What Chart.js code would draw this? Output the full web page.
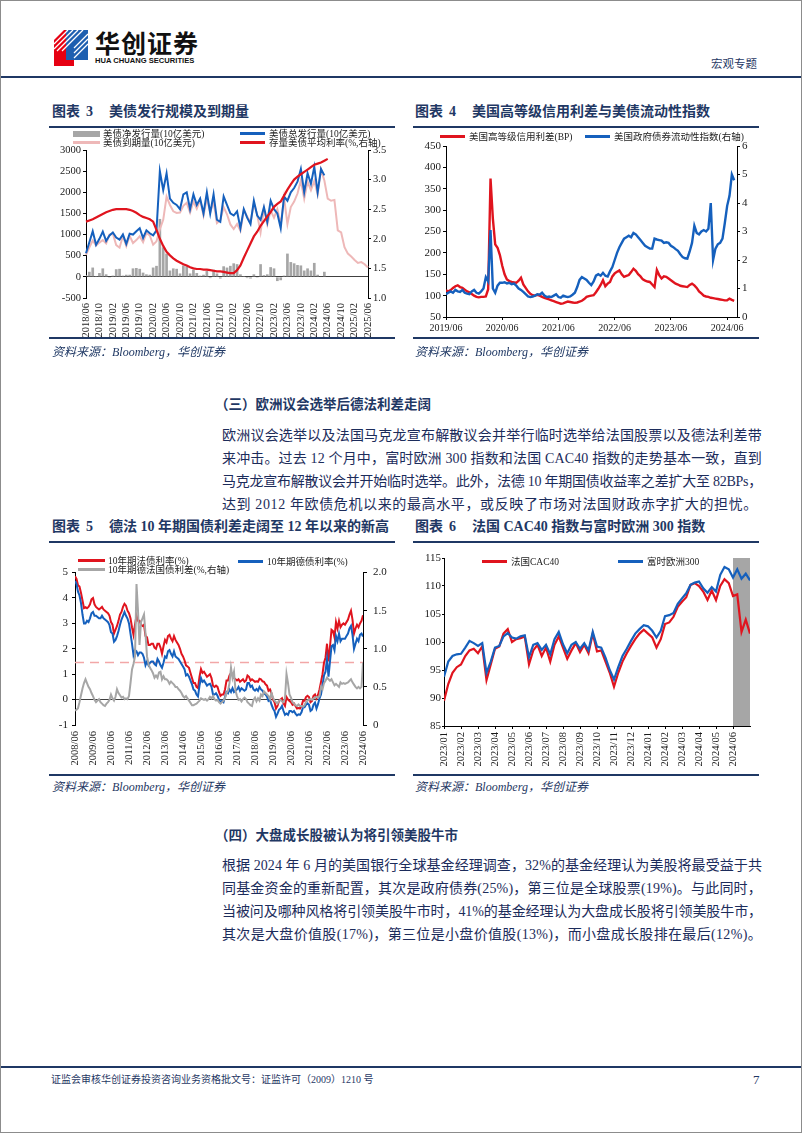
<!DOCTYPE html>
<html lang="zh-CN">
<head>
<meta charset="utf-8">
<title>宏观专题</title>
<script src="https://cdn.jsdelivr.net/npm/chart.js@4.4.1/dist/chart.umd.min.js"></script>
<style>
body{margin:0;background:#fff;}
#page{position:relative;width:802px;height:1133px;overflow:hidden;background:#fff;font-family:"Liberation Serif","Noto Sans CJK SC",serif;color:#1c2c5b;}
.frame{position:absolute;left:0;top:0;width:802px;height:1133px;box-sizing:border-box;border:1px solid #8c8c8c;pointer-events:none;}
.a{position:absolute;white-space:nowrap;}
.rule{position:absolute;height:2px;background:#1f3864;}
.title{position:absolute;font-size:14px;line-height:18px;font-weight:700;color:#1f3864;white-space:nowrap;}
.src{position:absolute;font-size:12px;line-height:16px;font-style:italic;color:#1f3864;white-space:nowrap;}
.lg{position:absolute;font-size:9.5px;line-height:10px;color:#222;white-space:nowrap;z-index:2;}
.sw{display:inline-block;width:25px;height:3px;vertical-align:middle;margin-right:4px;position:relative;top:-1px;}
.h{position:absolute;left:215px;font-size:13.5px;line-height:18px;font-weight:700;color:#1f3864;white-space:nowrap;}
.p{position:absolute;left:222px;width:540px;height:23px;font-size:14px;line-height:23px;white-space:nowrap;}
canvas{position:absolute;}
</style>
</head>
<body>
<div id="page">

<!-- header -->
<svg class="a" style="left:52px;top:28px" width="40" height="40" viewBox="0 0 40 40">
  <polygon points="2,12 12,2 22,2 22,38 2,38" fill="#e60012"/>
  <polygon points="14,2 36,2 36,32 14,32" fill="#1d5fb0"/>
  <g stroke="#fff" stroke-width="1.2">
    <line x1="2" y1="16" x2="16" y2="2"/><line x1="2" y1="21" x2="21" y2="2"/>
    <line x1="5" y1="23" x2="26" y2="2"/><line x1="10" y1="23" x2="31" y2="2"/>
    <line x1="22" y1="20" x2="36" y2="6"/><line x1="22" y1="25" x2="36" y2="11"/>
    <line x1="22" y1="30" x2="36" y2="16"/>
  </g>
</svg>
<div class="a" style="left:95px;top:28px;font-family:'Noto Sans CJK SC';font-size:25px;line-height:28px;font-weight:700;color:#111;letter-spacing:1px">华创证券</div>
<div class="a" style="left:95px;top:56px;font-family:'Liberation Sans';font-size:7.6px;line-height:9px;font-weight:700;color:#111">HUA CHUANG SECURITIES</div>
<div class="a" style="left:711px;top:56px;font-family:'Noto Sans CJK SC';font-size:11.5px;line-height:14px;color:#1f3864">宏观专题</div>
<div class="rule" style="left:0;top:76px;width:802px;height:2px"></div>

<!-- chart 3 -->
<div class="title" style="left:52px;top:103px">图表<span style="margin-left:6px">3</span><span style="margin-left:16px">美债发行规模及到期量</span></div>
<div class="rule" style="left:49px;top:126px;width:346px"></div>
<div class="lg" style="left:73px;top:129px"><span class="sw" style="width:27px;height:6px;background:#a6a6a6;margin-right:3px"></span>美债净发行量(10亿美元)</div>
<div class="lg" style="left:73px;top:138px"><span class="sw" style="width:27px;background:#eeb8b8;margin-right:3px"></span>美债到期量(10亿美元)</div>
<div class="lg" style="left:240px;top:129px"><span class="sw" style="background:#1560bd"></span>美债总发行量(10亿美元)</div>
<div class="lg" style="left:240px;top:138px"><span class="sw" style="background:#e0141e"></span>存量美债平均利率(%,右轴)</div>
<canvas id="c3" width="355" height="200" style="left:40px;top:140px"></canvas>
<div class="rule" style="left:49px;top:337px;width:346px"></div>
<div class="src" style="left:52px;top:344px">资料来源：Bloomberg，华创证券</div>

<!-- chart 4 -->
<div class="title" style="left:415px;top:103px">图表<span style="margin-left:6px">4</span><span style="margin-left:16px">美国高等级信用利差与美债流动性指数</span></div>
<div class="rule" style="left:413px;top:126px;width:346px"></div>
<div class="lg" style="left:440px;top:132px"><span class="sw" style="background:#e0141e"></span>美国高等级信用利差(BP)</div>
<div class="lg" style="left:585px;top:132px"><span class="sw" style="background:#1560bd"></span>美国政府债券流动性指数(右轴)</div>
<canvas id="c4" width="355" height="200" style="left:405px;top:136px"></canvas>
<div class="rule" style="left:413px;top:337px;width:346px"></div>
<div class="src" style="left:415px;top:344px">资料来源：Bloomberg，华创证券</div>

<!-- section 3 -->
<div class="h" style="top:396px">（三）欧洲议会选举后德法利差走阔</div>
<div class="p" style="top:424px"><span>欧洲议会选举以及法国马克龙宣布解散议会并举行临时选举给法国股票以及德法利差带</span></div>
<div class="p" style="top:447px"><span>来冲击。过去 12 个月中，富时欧洲 300 指数和法国 CAC40 指数的走势基本一致，直到</span></div>
<div class="p" style="top:470px"><span>马克龙宣布解散议会并开始临时选举。此外，法德 10 年期国债收益率之差扩大至 82BPs，</span></div>
<div class="p" style="top:493px" data-w="536"><span>达到 2012 年欧债危机以来的最高水平，或反映了市场对法国财政赤字扩大的担忧。</span></div>

<!-- chart 5 -->
<div class="title" style="left:52px;top:518px">图表<span style="margin-left:6px">5</span><span style="margin-left:16px">德法 10 年期国债利差走阔至 12 年以来的新高</span></div>
<div class="rule" style="left:49px;top:541px;width:346px"></div>
<div class="lg" style="left:78px;top:556px"><span class="sw" style="width:27px;background:#e0141e;margin-right:3px"></span>10年期法债利率(%)</div>
<div class="lg" style="left:238px;top:557px"><span class="sw" style="background:#1560bd"></span>10年期德债利率(%)</div>
<div class="lg" style="left:78px;top:565px"><span class="sw" style="width:27px;background:#a6a6a6;margin-right:3px"></span>10年期德法国债利差(%,右轴)</div>
<canvas id="c5" width="355" height="212" style="left:40px;top:560px"></canvas>
<div class="rule" style="left:49px;top:774px;width:346px"></div>
<div class="src" style="left:52px;top:779px">资料来源：Bloomberg，华创证券</div>

<!-- chart 6 -->
<div class="title" style="left:415px;top:518px">图表<span style="margin-left:6px">6</span><span style="margin-left:16px">法国 CAC40 指数与富时欧洲 300 指数</span></div>
<div class="rule" style="left:413px;top:541px;width:346px"></div>
<div class="lg" style="left:482px;top:557px"><span class="sw" style="background:#e0141e"></span>法国CAC40</div>
<div class="lg" style="left:618px;top:557px"><span class="sw" style="background:#1560bd"></span>富时欧洲300</div>
<canvas id="c6" width="350" height="224" style="left:405px;top:548px"></canvas>
<div class="rule" style="left:413px;top:774px;width:346px"></div>
<div class="src" style="left:415px;top:779px">资料来源：Bloomberg，华创证券</div>

<!-- section 4 -->
<div class="h" style="top:827px">（四）大盘成长股被认为将引领美股牛市</div>
<div class="p" style="top:854px"><span>根据 2024 年 6 月的美国银行全球基金经理调查，32%的基金经理认为美股将最受益于共</span></div>
<div class="p" style="top:877px"><span>同基金资金的重新配置，其次是政府债券(25%)，第三位是全球股票(19%)。与此同时，</span></div>
<div class="p" style="top:900px"><span>当被问及哪种风格将引领美股牛市时，41%的基金经理认为大盘成长股将引领美股牛市，</span></div>
<div class="p" style="top:923px"><span>其次是大盘价值股(17%)，第三位是小盘价值股(13%)，而小盘成长股排在最后(12%)。</span></div>

<!-- footer -->
<div class="rule" style="left:0;top:1066px;width:802px"></div>
<div class="a" style="left:51px;top:1073px;font-size:10px;line-height:14px;color:#1f3864">证监会审核华创证券投资咨询业务资格批文号：证监许可（2009）1210 号</div>
<div class="a" style="left:753px;top:1072px;font-size:13px;line-height:16px;color:#1f3864">7</div>

<div class="frame"></div>
</div>

<script>
//==========
// Data

// 图表3: 月度, 2018/06 起
const c3StartYear = 2018, c3StartMonth = 6;
const c3TotalIssue = [
	560, 820, 1080, 760, 900, 1070, 850,
	980, 1050, 930, 880, 1000, 780, 1020, 1000, 1080, 1150, 920, 1100,
	1030, 980, 1100, 2500, 2050, 2450, 1850, 1750, 1700, 1600, 1950, 2000,
	1600, 1950, 1700, 1850, 1500, 2000, 1500, 1950, 1350, 1300, 1900, 1700,
	1500, 1450, 1550, 1150, 1600, 1400, 1250, 1800, 1450, 1350, 1650, 1300,
	1800, 1600, 1500, 1150, 1900, 1800, 2000, 2100, 2250, 2550, 2000, 2450,
	2200, 2600, 2000, 2550, 2400
];
const c3Maturity = [
	520, 700, 860, 740, 810, 870, 790,
	1000, 1020, 750, 690, 970, 730, 970, 800, 870, 960, 820, 1040,
	980, 760, 840, 1130, 1350, 1900, 1700, 1550, 1510, 1520, 1680, 1750,
	1520, 1780, 1610, 1820, 1450, 1860, 1530, 1780, 1270, 1340, 1650, 1480,
	1240, 1130, 1250, 1090, 1580, 1430, 1290, 1740, 1470, 1050, 1610, 1240,
	1570, 1400, 1600, 1230, 1870, 1250, 1650, 1780, 1970, 2280, 1850, 2250,
	2050, 2270, 1950, 2540, 2280, 1850, 1800, 1820, 1100, 1050, 700, 550,
	480, 400, 330, 350, 300, 220
];
const c3NetIssue = [
	40, 120, 220, 20, 90, 200, 60,
	-20, 30, 180, 190, 30, 50, 50, 200, 210, 190, 100, 60,
	50, 220, 260, 1370, 700, 550, 150, 200, 190, 80, 270, 250,
	80, 170, 90, 30, 50, 140, -30, 170, 80, -40, 250, 220,
	260, 320, 300, 60, 20, -30, -40, 60, -20, 300, 40, 60,
	230, 200, -100, -80, 30, 550, 350, 320, 280, 270, 150, 200,
	150, 330, 50, 10, 120
];
const c3AvgRate = [
	2.29, 2.31, 2.33, 2.36, 2.39, 2.42, 2.45,
	2.47, 2.49, 2.50, 2.50, 2.50, 2.50, 2.49, 2.47, 2.44, 2.40, 2.37, 2.35,
	2.33, 2.29, 2.15, 2.00, 1.88, 1.78, 1.72, 1.67, 1.63, 1.60, 1.57, 1.55,
	1.52, 1.50, 1.49, 1.49, 1.48, 1.48, 1.47, 1.46, 1.45, 1.45, 1.44, 1.43,
	1.42, 1.42, 1.47, 1.55, 1.68, 1.80, 1.92, 2.04, 2.12, 2.22, 2.30, 2.38,
	2.45, 2.54, 2.59, 2.63, 2.73, 2.83, 2.92, 3.00, 3.05, 3.09, 3.13, 3.17,
	3.21, 3.25, 3.27, 3.29, 3.32, 3.35
];
const c3TickEvery = 4;

// 图表4: 半月度, 2019/06 起 (x = 月)
const c4Step = 0.5;
const c4CreditSpread = [
	112, 110, 113, 118, 122, 124, 120, 118, 114, 110, 108, 104, 100, 97, 96, 97, 97, 98, 115, 374,
	280, 220, 212, 195, 170, 150, 138, 134, 132, 131, 130, 135, 142, 126, 118, 110, 104, 101, 100, 102,
	100, 97, 95, 93, 91, 89, 87, 85, 83, 81, 82, 84, 86, 85, 84, 83, 84, 86, 88, 92,
	97, 99, 100, 101, 108, 116, 125, 136, 122, 128, 132, 145, 152, 156, 159, 150, 144, 146, 148, 155,
	163, 158, 150, 145, 138, 135, 133, 132, 126, 120, 160, 148, 140, 145, 144, 140, 136, 132, 128, 126,
	123, 122, 121, 120, 125, 128, 124, 118, 110, 105, 100, 98, 97, 95, 94, 93, 92, 91, 90, 89,
	89, 93, 90, 88
];
const c4Liquidity = [
	0.80, 0.85, 0.90, 0.85, 0.95, 0.90, 0.88, 0.95, 0.85, 0.82, 0.80, 0.90, 0.95, 0.85, 0.82, 0.90, 1.00, 1.40, 1.25, 3.05,
	1.00, 0.85, 1.10, 1.20, 1.20, 1.22, 1.18, 1.20, 1.15, 1.17, 1.10, 1.00, 0.95, 0.88, 0.80, 0.72, 0.70, 0.72, 0.75, 0.80,
	0.78, 0.85, 0.75, 0.70, 0.72, 0.70, 0.75, 0.80, 0.70, 0.68, 0.75, 0.72, 0.70, 0.72, 0.78, 0.85, 1.05, 1.30, 1.40, 1.35,
	1.30, 1.20, 1.12, 1.25, 1.45, 1.50, 1.45, 1.55, 1.45, 1.42, 1.60, 1.75, 2.00, 2.25, 2.45, 2.60, 2.75, 2.80, 2.85, 2.80,
	2.95, 2.90, 2.80, 2.70, 2.60, 2.50, 2.45, 2.40, 2.40, 2.75, 2.72, 2.70, 2.68, 2.60, 2.62, 2.60, 2.50, 2.45, 2.38, 2.32,
	2.20, 2.10, 2.06, 2.05, 2.30, 2.60, 3.20, 2.95, 2.90, 3.00, 3.05, 3.00, 3.10, 4.00, 2.00, 2.40, 2.55, 2.60, 2.75, 3.30,
	3.90, 4.25, 5.00, 4.80
];
const c4TickPos = [0, 12, 24, 36, 48, 60];
const c4TickLabels = ["2019/06", "2020/06", "2021/06", "2022/06", "2023/06", "2024/06"];

// 图表5: 月度, 2008/06 起
const c5Step = 1;
const c5France = [
	4.86, 4.75, 4.50, 4.45, 4.20, 3.90, 3.60,
	3.64, 3.60, 3.65, 3.75, 3.95, 4.00, 3.75, 3.65, 3.60, 3.55, 3.60, 3.65,
	3.55, 3.50, 3.45, 3.40, 3.30, 3.05, 2.95, 2.60, 2.75, 2.90, 3.10, 3.35,
	3.45, 3.65, 3.77, 3.70, 3.50, 3.40, 3.20, 2.85, 2.55, 2.95, 3.30, 3.10,
	3.10, 2.95, 2.90, 2.95, 2.50, 2.45, 2.15, 2.15, 2.20, 2.20, 2.05, 2.00,
	2.20, 2.20, 2.05, 1.80, 2.10, 2.35, 2.25, 2.50, 2.55, 2.40, 2.30, 2.50,
	2.35, 2.25, 2.15, 2.00, 1.80, 1.70, 1.55, 1.35, 1.30, 1.25, 1.05, 0.85,
	0.65, 0.65, 0.50, 0.45, 0.90, 1.20, 1.05, 1.10, 1.00, 0.90, 0.95, 1.00,
	0.85, 0.55, 0.50, 0.55, 0.50, 0.30, 0.15, 0.20, 0.20, 0.40, 0.75, 0.75,
	0.95, 1.05, 1.00, 0.85, 0.80, 0.75, 0.80, 0.70, 0.75, 0.80, 0.70, 0.75,
	0.95, 0.90, 0.75, 0.80, 0.75, 0.70, 0.72, 0.70, 0.82, 0.80, 0.72, 0.70,
	0.60, 0.55, 0.35, 0.40, 0.25, 0.00, -0.10, -0.35, -0.25, -0.05, 0.00, 0.05,
	-0.15, -0.25, 0.10, 0.00, -0.05, -0.10, -0.20, -0.15, -0.25, -0.35, -0.33, -0.35,
	-0.25, -0.05, -0.05, 0.10, 0.15, 0.10, -0.10, -0.05, 0.15, 0.20, 0.05, 0.18,
	0.40, 0.70, 1.00, 1.45, 1.65, 2.20, 1.50, 2.10, 2.75, 2.70, 2.45, 3.05,
	2.80, 3.10, 2.85, 2.95, 3.00, 2.95, 3.05, 3.15, 3.35, 3.50, 3.15, 2.60,
	2.80, 2.95, 2.85, 3.00, 3.10, 3.32
];
const c5Germany = [
	4.67, 4.55, 4.25, 4.10, 3.80, 3.35, 3.00,
	3.00, 3.10, 3.05, 3.20, 3.40, 3.45, 3.30, 3.30, 3.25, 3.20, 3.20, 3.30,
	3.20, 3.15, 3.10, 3.05, 2.93, 2.65, 2.60, 2.28, 2.35, 2.50, 2.70, 2.95,
	3.15, 3.30, 3.45, 3.30, 3.19, 3.00, 2.60, 2.20, 1.75, 1.95, 1.90, 1.75,
	1.85, 1.85, 1.80, 1.65, 1.35, 1.50, 1.35, 1.45, 1.50, 1.50, 1.40, 1.35,
	1.60, 1.50, 1.35, 1.25, 1.45, 1.70, 1.65, 1.90, 1.95, 1.80, 1.70, 1.90,
	1.70, 1.65, 1.60, 1.50, 1.40, 1.30, 1.20, 0.95, 1.00, 0.90, 0.75, 0.60,
	0.40, 0.35, 0.20, 0.12, 0.55, 0.85, 0.70, 0.75, 0.65, 0.55, 0.60, 0.62,
	0.50, 0.20, 0.20, 0.25, 0.15, 0.00, -0.10, -0.05, -0.10, 0.10, 0.30, 0.25,
	0.40, 0.30, 0.45, 0.30, 0.35, 0.40, 0.50, 0.35, 0.45, 0.40, 0.35, 0.40,
	0.65, 0.65, 0.50, 0.55, 0.40, 0.35, 0.42, 0.35, 0.50, 0.40, 0.35, 0.25,
	0.20, 0.12, -0.05, 0.00, -0.20, -0.35, -0.45, -0.68, -0.55, -0.40, -0.35, -0.25,
	-0.45, -0.60, -0.55, -0.60, -0.45, -0.45, -0.50, -0.45, -0.55, -0.62, -0.58, -0.60,
	-0.50, -0.30, -0.30, -0.20, -0.15, -0.20, -0.45, -0.40, -0.20, -0.12, -0.35, -0.18,
	0.05, 0.20, 0.55, 0.95, 1.10, 1.60, 0.90, 1.50, 2.10, 2.15, 1.95, 2.50,
	2.30, 2.60, 2.30, 2.40, 2.40, 2.40, 2.50, 2.60, 2.80, 2.90, 2.55, 2.00,
	2.20, 2.40, 2.30, 2.55, 2.60, 2.48
];
const c5Spread = [
	0.19, 0.20, 0.22, 0.30, 0.39, 0.48, 0.55,
	0.60, 0.55, 0.50, 0.47, 0.42, 0.38, 0.33, 0.30, 0.32, 0.34, 0.30, 0.28,
	0.26, 0.25, 0.28, 0.30, 0.33, 0.40, 0.35, 0.32, 0.37, 0.47, 0.42, 0.39,
	0.36, 0.37, 0.34, 0.35, 0.34, 0.38, 0.55, 0.73, 0.80, 0.90, 1.85, 1.50,
	1.05, 1.35, 1.40, 1.45, 1.20, 0.90, 0.80, 0.75, 0.72, 0.68, 0.62, 0.65,
	0.62, 0.69, 0.70, 0.60, 0.64, 0.60, 0.60, 0.58, 0.54, 0.57, 0.55, 0.53,
	0.50, 0.50, 0.47, 0.45, 0.42, 0.38, 0.36, 0.38, 0.35, 0.32, 0.29, 0.26,
	0.26, 0.27, 0.28, 0.30, 0.32, 0.35, 0.34, 0.33, 0.34, 0.32, 0.34, 0.37,
	0.35, 0.38, 0.34, 0.32, 0.33, 0.30, 0.28, 0.30, 0.32, 0.35, 0.42, 0.45,
	0.55, 0.75, 0.62, 0.70, 0.45, 0.38, 0.33, 0.34, 0.31, 0.34, 0.36, 0.34,
	0.30, 0.28, 0.26, 0.25, 0.33, 0.36, 0.31, 0.35, 0.32, 0.40, 0.38, 0.44,
	0.42, 0.40, 0.38, 0.34, 0.42, 0.36, 0.32, 0.30, 0.28, 0.32, 0.33, 0.31,
	0.30, 0.35, 0.67, 0.55, 0.40, 0.36, 0.30, 0.28, 0.26, 0.25, 0.27, 0.25,
	0.25, 0.24, 0.26, 0.30, 0.32, 0.33, 0.34, 0.33, 0.35, 0.36, 0.37, 0.36,
	0.38, 0.50, 0.47, 0.55, 0.58, 0.62, 0.60, 0.58, 0.60, 0.56, 0.52, 0.54,
	0.52, 0.50, 0.56, 0.54, 0.55, 0.54, 0.55, 0.56, 0.58, 0.60, 0.56, 0.53,
	0.50, 0.48, 0.50, 0.48, 0.50, 0.82
];
const c5SpreadMark = 0.82;// 82BPs 参考线
const c5TickLabels = ["2008/06", "2009/06", "2010/06", "2011/06", "2012/06", "2013/06", "2014/06", "2015/06", "2016/06",
	"2017/06", "2018/06", "2019/06", "2020/06", "2021/06", "2022/06", "2023/06", "2024/06"];

// 图表6: 周度(约), 2023/01 起 (x = 月)
const c6Step = 0.25;
const c6Cac40 = [
	89.5, 92.5, 94.5, 95.5, 96.0, 97.5, 98.5, 98.8, 98.0, 99.2,
	93.2, 96.0, 98.8, 99.2, 101.5, 102.3, 100.0, 100.5, 100.7, 101.0,
	96.0, 98.5, 99.5, 97.5, 99.0, 96.5, 99.5, 101.0, 99.0, 97.0,
	98.5, 99.8, 98.2, 99.5, 98.0, 101.5, 98.3, 98.5, 96.5, 94.5,
	92.0, 94.5, 96.5, 98.0, 99.3, 100.5, 101.5, 102.2, 101.5, 100.8,
	99.0, 100.5, 103.2, 103.5, 104.5, 106.3, 107.2, 108.0, 110.2, 110.5,
	110.0, 109.0, 107.5, 109.2, 107.5, 110.0, 111.2, 110.5, 108.2, 108.5,
	101.8, 104.0, 101.5
];
const c6Stoxx600 = [
	93.8, 96.5, 97.5, 97.8, 97.9, 99.0, 100.2, 99.8, 99.3, 99.8,
	94.5, 96.5, 99.0, 99.3, 101.0, 101.6, 100.8, 100.6, 101.0, 101.2,
	97.3, 99.5, 99.8, 98.6, 99.5, 97.8, 100.5, 101.8, 99.6, 98.0,
	99.5, 100.0, 98.8, 99.8, 98.5, 101.8, 99.2, 99.0, 97.2, 95.0,
	93.3, 95.5, 97.5, 98.8, 100.2, 101.5, 102.3, 103.0, 102.8, 102.0,
	100.8, 102.0, 104.6, 104.8, 105.2, 106.8, 107.8, 108.7, 110.2, 110.6,
	110.8, 109.6, 108.8, 109.8, 109.0, 112.0, 113.4, 113.0, 111.5, 113.0,
	111.3, 112.2, 111.0
];
const c6TickLabels = ["2023/01", "2023/02", "2023/03", "2023/04", "2023/05", "2023/06", "2023/07", "2023/08", "2023/09",
	"2023/10", "2023/11", "2023/12", "2024/01", "2024/02", "2024/03", "2024/04", "2024/05", "2024/06"];
const c6ShadeFrom = 17, c6ShadeTo = 18;// 2024/06 以后

//==========
// Text: 每行两端对齐

document.querySelectorAll(".p").forEach(el=>{
	const span = el.firstElementChild;
	const target = Number(el.dataset.w || 540);
	const n = span.textContent.length;
	const w = span.getBoundingClientRect().width;
	span.style.letterSpacing = ((target - w) / n) + "px";
});

//==========
// Helper

Chart.defaults.font.family = '"Liberation Serif", "Noto Sans CJK SC", serif';
Chart.defaults.font.size = 10.5;
Chart.defaults.color = "#1a1a1a";
Chart.defaults.animation = false;
Chart.defaults.responsive = false;
Chart.defaults.plugins.legend.display = false;
Chart.defaults.plugins.tooltip.enabled = false;
Chart.defaults.elements.point.radius = 0;
Chart.defaults.elements.line.tension = 0;

function fixW(w){ return s=>{ s.width = w; }; }
function fixH(h){ return s=>{ s.height = h; }; }
function setTicks(pos){ return s=>{ s.ticks = pos.map(v=>({value: v})); }; }
function pts(vals, step){ return vals.map((v, i)=>({x: i*step, y: v})); }
function zeroLine(c){ return (c.tick && c.tick.value === 0) ? "#404040" : "rgba(0,0,0,0)"; }
const sideGrid = {drawOnChartArea: false, tickColor: "#000", tickLength: 3};

//==========
// 图表3

const c3Months = [];
for(let i=0; i<c3Maturity.length; i++){
	const m = c3StartMonth - 1 + i;
	c3Months.push((c3StartYear + Math.floor(m/12)) + "/" + String(m%12 + 1).padStart(2, "0"));
}

new Chart(document.getElementById("c3"), {
	type: "bar",
	data: {
		labels: c3Months,
		datasets: [
			{type: "line", data: c3AvgRate, yAxisID: "y1", borderColor: "#e0141e", borderWidth: 2.2, order: 0},
			{type: "line", data: c3TotalIssue, yAxisID: "y", borderColor: "#1560bd", borderWidth: 2, order: 1},
			{type: "line", data: c3Maturity, yAxisID: "y", borderColor: "#eeb8b8", borderWidth: 2, order: 2},
			{type: "bar", data: c3NetIssue, yAxisID: "y", backgroundColor: "#a6a6a6", barPercentage: 0.8, categoryPercentage: 1, order: 3}
		]
	},
	options: {
		layout: {padding: {top: 10, left: 0, right: 0, bottom: 0}, autoPadding: false},
		scales: {
			x: {
				offset: false,
				grid: {display: false, drawTicks: false},
				border: {display: false},
				ticks: {autoSkip: false, minRotation: 90, maxRotation: 90, padding: 5,
					callback: function(v, i){ return i % c3TickEvery === 0 ? this.getLabelForValue(v) : null; }},
				afterFit: fixH(42)
			},
			y: {
				position: "left", min: -500, max: 3000,
				ticks: {stepSize: 500, padding: 2, callback: v=>String(v)},
				grid: {color: zeroLine, tickColor: "#000", tickLength: 3},
				border: {color: "#000"},
				afterFit: fixW(46)
			},
			y1: {
				position: "right", min: 1, max: 3.5,
				ticks: {stepSize: 0.5, padding: 2},
				grid: sideGrid,
				border: {color: "#000"},
				afterFit: fixW(27)
			}
		}
	}
});

//==========
// 图表4

new Chart(document.getElementById("c4"), {
	type: "line",
	data: {
		datasets: [
			{data: pts(c4Liquidity, c4Step), yAxisID: "y1", borderColor: "#1560bd", borderWidth: 2.4, order: 0},
			{data: pts(c4CreditSpread, c4Step), yAxisID: "y", borderColor: "#e0141e", borderWidth: 2.4, order: 1}
		]
	},
	options: {
		layout: {padding: {top: 10, left: 0, right: 0, bottom: 0}, autoPadding: false},
		scales: {
			x: {
				type: "linear", min: 0, max: 62.1,
				afterBuildTicks: setTicks(c4TickPos),
				ticks: {maxRotation: 0, padding: 2, font: {size: 10}, callback: v=>c4TickLabels[c4TickPos.indexOf(v)]},
				grid: sideGrid,
				border: {color: "#000"},
				afterFit: fixH(19)
			},
			y: {
				position: "left", min: 50, max: 450,
				ticks: {stepSize: 50, padding: 2, font: {size: 11}},
				grid: sideGrid,
				border: {color: "#000"},
				afterFit: fixW(41)
			},
			y1: {
				position: "right", min: 0, max: 6,
				ticks: {stepSize: 1, padding: 2, font: {size: 11}},
				grid: sideGrid,
				border: {color: "#000"},
				afterFit: fixW(23)
			}
		}
	}
});

//==========
// 图表5

const c5Span = (c5France.length - 1) * c5Step;
const c5TickPos = c5TickLabels.map((l, i)=>i*12);

new Chart(document.getElementById("c5"), {
	type: "line",
	data: {
		datasets: [
			{data: pts(c5Spread, c5Step), yAxisID: "y1", borderColor: "#a6a6a6", borderWidth: 2, order: 0},
			{data: pts(c5Germany, c5Step), yAxisID: "y", borderColor: "#1560bd", borderWidth: 2, order: 1},
			{data: pts(c5France, c5Step), yAxisID: "y", borderColor: "#e0141e", borderWidth: 2, order: 2},
			{data: [{x: 0, y: c5SpreadMark}, {x: c5Span, y: c5SpreadMark}], yAxisID: "y1",
				borderColor: "#f2a7a7", borderWidth: 1.5, borderDash: [9, 6], order: 3}
		]
	},
	options: {
		layout: {padding: {top: 10, left: 0, right: 0, bottom: 0}, autoPadding: false},
		scales: {
			x: {
				type: "linear", min: 0, max: c5Span,
				afterBuildTicks: setTicks(c5TickPos),
				ticks: {minRotation: 90, maxRotation: 90, padding: 6, callback: v=>c5TickLabels[c5TickPos.indexOf(v)]},
				grid: {display: false, drawTicks: false},
				border: {display: false},
				afterFit: fixH(47)
			},
			y: {
				position: "left", min: -1, max: 5,
				ticks: {stepSize: 1, padding: 4, font: {size: 11}},
				grid: {color: zeroLine, tickColor: "#000", tickLength: 3},
				border: {color: "#000"},
				afterFit: fixW(35)
			},
			y1: {
				position: "right", min: 0, max: 2,
				ticks: {stepSize: 0.5, padding: 6, font: {size: 11}},
				grid: {drawOnChartArea: false, tickColor: "#000", tickLength: 4},
				border: {color: "#000"},
				afterFit: fixW(32)
			}
		}
	}
});

//==========
// 图表6

const c6TickPos = c6TickLabels.map((l, i)=>i);
const shadePlugin = {
	id: "shade",
	beforeDatasetsDraw(chart){
		const {ctx, chartArea, scales} = chart;
		const x0 = scales.x.getPixelForValue(c6ShadeFrom);
		const x1 = scales.x.getPixelForValue(c6ShadeTo);
		ctx.save();
		ctx.fillStyle = "#a6a6a6";
		ctx.fillRect(x0, chartArea.top, x1 - x0, chartArea.bottom - chartArea.top);
		ctx.restore();
	}
};

new Chart(document.getElementById("c6"), {
	type: "line",
	data: {
		datasets: [
			{data: pts(c6Stoxx600, c6Step), borderColor: "#1560bd", borderWidth: 2.2, order: 0},
			{data: pts(c6Cac40, c6Step), borderColor: "#e0141e", borderWidth: 2.2, order: 1}
		]
	},
	options: {
		layout: {padding: {top: 10, left: 0, right: 5, bottom: 0}, autoPadding: false},
		scales: {
			x: {
				type: "linear", min: 0, max: c6ShadeTo,
				afterBuildTicks: setTicks(c6TickPos),
				ticks: {minRotation: 90, maxRotation: 90, padding: 3, callback: v=>c6TickLabels[c6TickPos.indexOf(v)]},
				grid: sideGrid,
				border: {color: "#000"},
				afterFit: fixH(46)
			},
			y: {
				position: "left", min: 85, max: 115,
				ticks: {stepSize: 5, padding: 1, font: {size: 11}},
				grid: {drawOnChartArea: false, tickColor: "#000", tickLength: 2},
				border: {color: "#000"},
				afterFit: fixW(39)
			}
		}
	},
	plugins: [shadePlugin]
});
</script>
</body>
</html>
